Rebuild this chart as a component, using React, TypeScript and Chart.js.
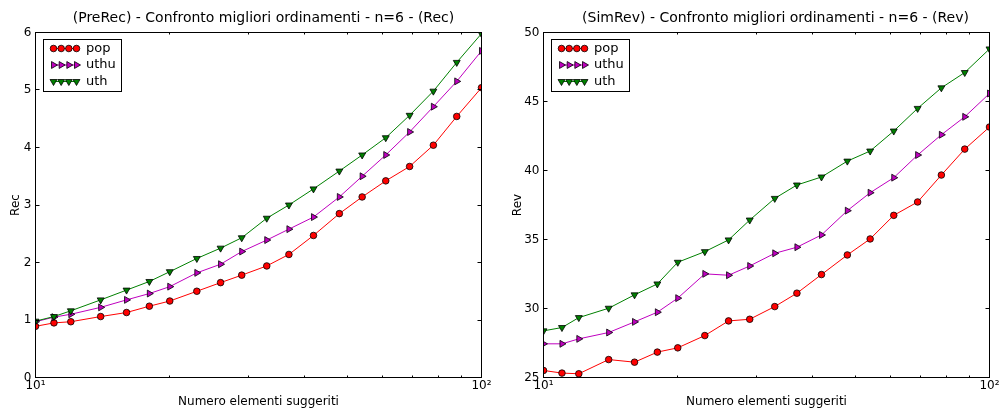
import React, { useEffect, useRef } from 'react';
import { Chart, registerables } from 'chart.js';

Chart.register(...registerables);

const FONT = "'DejaVu Sans', 'Liberation Sans', sans-serif";

// Number of suggested elements (log x axis)
const xValues = [10, 11, 12, 14, 16, 18, 20, 23, 26, 29, 33, 37, 42, 48, 54, 61, 69, 78, 88, 100];
const xTickValues = [10, 20, 30, 40, 50, 60, 70, 80, 90, 100];
const xTickLabels: Record<number, string> = { 10: '10¹', 100: '10²' };

const seriesNames = ['pop', 'uthu', 'uth'];
const seriesColors = ['#ff0000', '#bf00bf', '#008000'];

// Left panel: Rec
const recPop = [0.89, 0.95, 0.97, 1.06, 1.13, 1.24, 1.33, 1.5, 1.65, 1.78, 1.94, 2.14, 2.47, 2.85, 3.14, 3.42, 3.67, 4.04, 4.54, 5.04];
const recUthu = [0.97, 1.05, 1.1, 1.22, 1.35, 1.46, 1.58, 1.82, 1.97, 2.19, 2.39, 2.58, 2.79, 3.14, 3.5, 3.87, 4.27, 4.71, 5.15, 5.68];
const recUth = [0.98, 1.06, 1.16, 1.35, 1.52, 1.67, 1.84, 2.07, 2.25, 2.43, 2.77, 3.0, 3.28, 3.59, 3.87, 4.17, 4.56, 4.98, 5.48, 5.98];

// Right panel: Rev
const revPop = [25.51, 25.32, 25.27, 26.3, 26.11, 26.84, 27.15, 28.04, 29.1, 29.22, 30.14, 31.11, 32.46, 33.88, 35.04, 36.75, 37.72, 39.67, 41.55, 43.15];
const revUthu = [27.44, 27.44, 27.8, 28.26, 29.03, 29.73, 30.75, 32.51, 32.41, 33.08, 34.0, 34.44, 35.33, 37.09, 38.39, 39.48, 41.12, 42.59, 43.89, 45.58];
const revUth = [28.38, 28.62, 29.34, 30.02, 30.99, 31.78, 33.35, 34.12, 34.97, 36.41, 37.98, 38.95, 39.53, 40.68, 41.41, 42.86, 44.5, 45.99, 47.1, 48.81];

const markerStyles = ['circle', 'right', 'down'];

function drawMarker(ctx: CanvasRenderingContext2D, style: string, x: number, y: number, fill: string) {
  ctx.beginPath();
  if (style === 'circle') {
    ctx.arc(x, y, 3.3, 0, Math.PI * 2);
  } else if (style === 'right') {
    const r = 4;
    ctx.moveTo(x + r, y);
    ctx.lineTo(x - r / 2, y - r * 0.866);
    ctx.lineTo(x - r / 2, y + r * 0.866);
  } else {
    const r = 4;
    ctx.moveTo(x, y + r);
    ctx.lineTo(x - r * 0.866, y - r / 2);
    ctx.lineTo(x + r * 0.866, y - r / 2);
  }
  ctx.closePath();
  ctx.fillStyle = fill;
  ctx.fill();
  ctx.strokeStyle = '#000';
  ctx.lineWidth = 0.8;
  ctx.stroke();
}

const framePlugin = {
  id: 'frame',
  afterLayout(chart: any, _args: any, opts: any) {
    const tb = chart.titleBlock;
    if (tb && opts && opts.titleShift) {
      tb.left += opts.titleShift;
      tb.right += opts.titleShift;
    }
  },
  afterDatasetsDraw(chart: any) {
    const { ctx, chartArea: a, scales } = chart;
    const px = (v: number) => Math.floor(v) + 0.5;
    ctx.save();
    ctx.strokeStyle = '#000';
    ctx.lineWidth = 1;
    ctx.strokeRect(a.left, a.top, a.right - a.left, a.bottom - a.top);
    ctx.beginPath();
    scales.y.ticks.forEach((t: any) => {
      const y = px(scales.y.getPixelForValue(t.value));
      ctx.moveTo(a.left, y);
      ctx.lineTo(a.left + 4, y);
      ctx.moveTo(a.right, y);
      ctx.lineTo(a.right - 4, y);
    });
    scales.x.ticks.forEach((t: any) => {
      const x = px(scales.x.getPixelForValue(t.value));
      const len = t.value === 10 || t.value === 100 ? 4 : 2;
      ctx.moveTo(x, a.bottom);
      ctx.lineTo(x, a.bottom - len);
      ctx.moveTo(x, a.top);
      ctx.lineTo(x, a.top + len);
    });
    ctx.stroke();

    // legend
    const bx = Math.floor(a.left + 8) + 0.5;
    const by = Math.floor(a.top + 7) + 0.5;
    const bw = 78;
    const bh = 52;
    ctx.fillStyle = '#fff';
    ctx.fillRect(bx, by, bw, bh);
    ctx.strokeStyle = '#000';
    ctx.lineWidth = 1;
    ctx.strokeRect(bx, by, bw, bh);
    const rows = [9, 25.5, 42];
    seriesNames.forEach((name, i) => {
      const y = by + rows[i];
      const x0 = bx + 10;
      const x1 = bx + 33;
      ctx.beginPath();
      ctx.strokeStyle = seriesColors[i];
      ctx.lineWidth = 1;
      ctx.moveTo(x0, y);
      ctx.lineTo(x1, y);
      ctx.stroke();
      for (let k = 0; k < 4; k++) {
        drawMarker(ctx, markerStyles[i], x0 + ((x1 - x0) * k) / 3, y, seriesColors[i]);
      }
      ctx.fillStyle = '#000';
      ctx.font = `13px ${FONT}`;
      ctx.textBaseline = 'middle';
      ctx.textAlign = 'left';
      ctx.fillText(name, bx + 42.5, y);
    });
    ctx.restore();
  },
};

type PanelProps = {
  width: number;
  left: number;
  padLeft: number;
  yAxisWidth: number;
  padRight: number;
  titleShift: number;
  title: string;
  yLabel: string;
  yMin: number;
  yMax: number;
  yStep: number;
  series: number[][];
};

function Panel(p: PanelProps) {
  const ref = useRef<HTMLCanvasElement>(null);
  useEffect(() => {
    if (!ref.current) return;
    const pointStyles = ['circle', 'triangle', 'triangle'];
    const rotations = [0, 90, 180];
    const radii = [3.3, 4, 4];
    const chart = new Chart(ref.current, {
      type: 'line',
      data: {
        datasets: p.series.map((vals, i) => ({
          label: seriesNames[i],
          data: xValues.map((x, j) => ({ x, y: vals[j] })),
          borderColor: seriesColors[i],
          backgroundColor: seriesColors[i],
          borderWidth: 1,
          pointStyle: pointStyles[i] as any,
          rotation: rotations[i],
          pointRadius: radii[i],
          pointBackgroundColor: seriesColors[i],
          pointBorderColor: '#000',
          pointBorderWidth: 0.8,
          tension: 0,
          clip: 0,
          order: 2 - i,
        })),
      },
      options: {
        animation: false,
        responsive: false,
        devicePixelRatio: 1,
        events: [],
        layout: { padding: { left: p.padLeft, right: p.padRight, top: 0, bottom: 0 } },
        plugins: {
          legend: { display: false },
          tooltip: { enabled: false },
          frame: { titleShift: p.titleShift },
          title: {
            display: true,
            text: p.title,
            fullSize: false,
            color: '#000',
            font: { family: FONT, size: 14, weight: 'normal' },
            padding: { top: 10.1, bottom: 5.6 },
          },
        },
        scales: {
          x: {
            type: 'logarithmic',
            min: 10,
            max: 100,
            grid: { display: false, drawTicks: false },
            border: { display: false },
            afterBuildTicks: (s: any) => {
              s.ticks = xTickValues.map((v) => ({ value: v }));
            },
            afterFit: (s: any) => {
              s.height = 31.5;
            },
            ticks: {
              autoSkip: false,
              maxRotation: 0,
              padding: 1,
              color: '#000',
              font: { family: FONT, size: 12 },
              callback: (v: any) => xTickLabels[Number(v)] ?? '',
            },
            title: {
              display: true,
              text: 'Numero elementi suggeriti',
              color: '#000',
              font: { family: FONT, size: 12 },
              padding: { top: 0, bottom: 0 },
            },
          },
          y: {
            min: p.yMin,
            max: p.yMax,
            grid: { display: false, drawTicks: false },
            border: { display: false },
            afterFit: (s: any) => {
              s.width = p.yAxisWidth;
            },
            ticks: {
              stepSize: p.yStep,
              padding: 4,
              color: '#000',
              font: { family: FONT, size: 12 },
            },
            title: {
              display: true,
              text: p.yLabel,
              color: '#000',
              font: { family: FONT, size: 12 },
              padding: { top: 0, bottom: 0 },
            },
          },
        },
      } as any,
      plugins: [framePlugin],
    });
    return () => chart.destroy();
  }, []);
  return (
    <canvas
      ref={ref}
      width={p.width}
      height={409}
      style={{ position: 'absolute', left: p.left, top: 0, width: p.width, height: 409, display: 'block' }}
    />
  );
}

export default function App() {
  return (
    <div style={{ position: 'absolute', left: 0, top: 0, width: 1001, height: 409, background: '#fff' }}>
      <Panel
        width={500}
        left={0}
        padLeft={9}
        yAxisWidth={26.5}
        padRight={18.5}
        titleShift={5}
        title="(PreRec) - Confronto migliori ordinamenti - n=6 - (Rec)"
        yLabel="Rec"
        yMin={0}
        yMax={6}
        yStep={1}
        series={[recPop, recUthu, recUth]}
      />
      <Panel
        width={501}
        left={500}
        padLeft={10.5}
        yAxisWidth={33}
        padRight={11.5}
        titleShift={9}
        title="(SimRev) - Confronto migliori ordinamenti - n=6 - (Rev)"
        yLabel="Rev"
        yMin={25}
        yMax={50}
        yStep={5}
        series={[revPop, revUthu, revUth]}
      />
    </div>
  );
}
